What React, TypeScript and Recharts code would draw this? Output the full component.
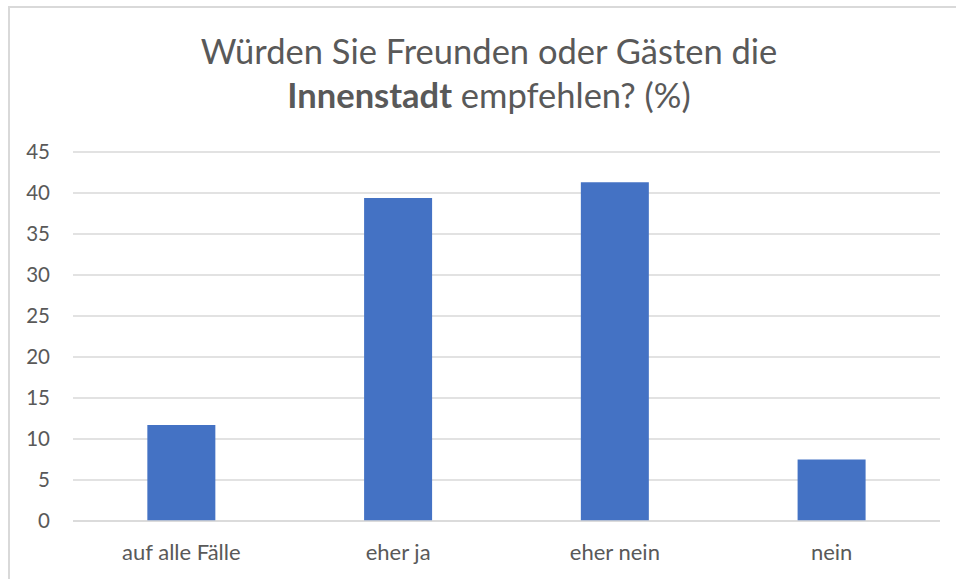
import React from "react";
import { BarChart, Bar, XAxis, YAxis, CartesianGrid } from "recharts";

const categories = ["auf alle Fälle", "eher ja", "eher nein", "nein"];
const values = [11.7, 39.4, 41.3, 7.5];
const yTicks = [0, 5, 10, 15, 20, 25, 30, 35, 40, 45];
const titleLine1 = "Würden Sie Freunden oder Gästen die";
const titleBold = "Innenstadt";
const titleRest = " empfehlen? (%)";

const data = categories.map((c, i) => ({ name: c, value: values[i] }));

const FONT = "Lato, 'Open Sans', sans-serif";
const TEXT = "#595959";

export default function App() {
  return (
    <div style={{ position: "absolute", left: 0, top: 0, width: 956, height: 579, background: "#fff", overflow: "hidden" }}>
      <div
        style={{
          position: "absolute",
          left: 8,
          top: 6,
          width: 948,
          height: 573,
          boxSizing: "border-box",
          borderTop: "2px solid #d9d9d9",
          borderLeft: "2px solid #d9d9d9",
        }}
      />
      <svg width={956} height={130} style={{ position: "absolute", left: 0, top: 0 }}>
        <text x={489} y={64} textAnchor="middle" fontFamily={FONT} fontSize={34.5} fill={TEXT}>
          {titleLine1}
        </text>
        <text x={489} y={108} textAnchor="middle" fontFamily={FONT} fontSize={34.5} fill={TEXT}>
          <tspan fontWeight="bold">{titleBold}</tspan>
          <tspan>{titleRest}</tspan>
        </text>
      </svg>
      <div style={{ position: "absolute", left: 0, top: 0 }}>
        <BarChart
          width={956}
          height={579}
          data={data}
          margin={{ top: 152, right: 16, bottom: 28, left: 0 }}
          barCategoryGap="34.3%"
        >
          <CartesianGrid vertical={false} stroke="#d9d9d9" strokeWidth={1.5} />
          <XAxis
            dataKey="name"
            axisLine={{ stroke: "#d9d9d9", strokeWidth: 1.5 }}
            tickLine={false}
            tickSize={0}
            tickMargin={23}
            height={30}
            interval={0}
            tick={{ fill: TEXT, fontSize: 22, fontFamily: FONT }}
          />
          <YAxis
            domain={[0, 45]}
            ticks={yTicks}
            width={73}
            axisLine={false}
            tickLine={false}
            tickSize={0}
            tickMargin={23}
            interval={0}
            tick={{ fill: TEXT, fontSize: 20.5, fontFamily: FONT }}
          />
          <Bar dataKey="value" fill="#4472C4" isAnimationActive={false} />
        </BarChart>
      </div>
    </div>
  );
}
